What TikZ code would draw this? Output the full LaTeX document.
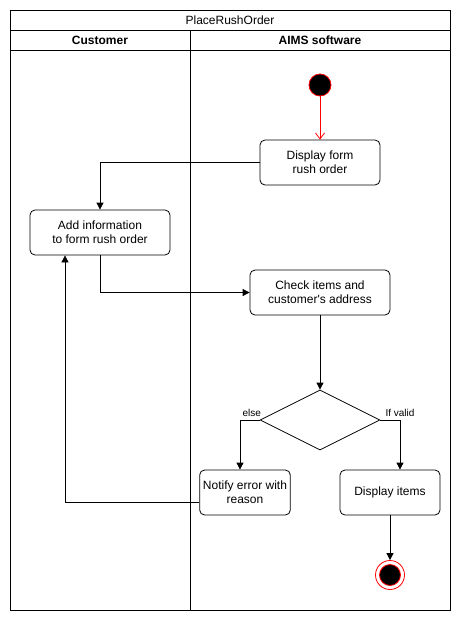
\documentclass[tikz,border=0pt]{standalone}
\usepackage{fontspec}
\setmainfont{Liberation Sans}
\usetikzlibrary{shapes.geometric, arrows.meta, positioning}

\begin{document}
\begin{tikzpicture}[
    x=1pt, y=-1pt,
    font=\fontsize{12}{14}\selectfont,
    >={Triangle[length=7pt,width=7pt]},
    line width=0.8pt,
    % Style des actions
    action/.style={
        rectangle,
        draw,
        fill=white,
        rounded corners=5pt,
        minimum width=120pt,
        minimum height=45pt,
        align=center
    },
    decision/.style={
        diamond,
        draw,
        aspect=2,
        inner sep=0pt,
        minimum width=120pt,
        minimum height=60pt
    },
    startnode/.style={
        circle,
        draw=red,
        fill=black,
        minimum size=22pt,
        inner sep=0pt
    },
    endnode/.style={
        circle,
        draw=red,
        minimum size=29pt,
        inner sep=0pt,
        path picture={\filldraw[draw=red, fill=black] (path picture bounding box.center) circle (10.5pt);}
    },
    guard/.style={font=\fontsize{10}{12}\selectfont, inner sep=3pt}
]

    \useasboundingbox (0,0) rectangle (461,622);

    % --- COULOIRS ---
    \draw (10,10) rectangle (450,610);
    \draw (10,30) -- (450,30);
    \draw (10,50) -- (450,50);
    \draw (190,30) -- (190,610);
    \node (pool) at (230,20) {PlaceRushOrder};
    \node[font=\fontsize{12}{14}\selectfont\bfseries] (customer) at (100,40) {Customer};
    \node[font=\fontsize{12}{14}\selectfont\bfseries] (aims) at (320,40) {AIMS software};

    % --- NŒUDS ---
    \node[startnode] (start) at (320,85) {};
    \node[action] (showform) at (320,162.5) {Display form\\rush order};
    \node[action, minimum width=140pt] (addinfo) at (100,232.5) {Add information\\to form rush order};
    \node[action, minimum width=140pt] (checkitems) at (320,292.5) {Check items and\\customer\textquotesingle s address};
    \node[decision] (valid) at (320,420) {};
    \node[action, minimum width=90pt] (notify) at (245,492.5) {Notify error with\\reason};
    \node[action, minimum width=100pt] (showitems) at (390,492.5) {Display items};
    \node[endnode] (finish) at (390,575) {};

    % --- LIAISONS / FLÈCHES ---
    \draw[-{Straight Barb[length=6pt,width=9pt]}, red] (start) -- (showform);
    \draw[->] (showform.west) -| (addinfo.north);
    \draw[->] (addinfo.south) |- (checkitems.west);
    \draw[->] (checkitems) -- (valid);

    % Branches de la décision
    \draw[->] (valid.west) -| node[guard, pos=0.2, above] {else} ([xshift=-5pt]notify.north);
    \draw[->] (valid.east) -| node[guard, pos=0.5, above] {If valid} ([xshift=10pt]showitems.north);

    % Retour vers le client
    \draw[->] (notify.192) -| ([xshift=-35pt]addinfo.south);

    \draw[->] (showitems) -- (finish);

\end{tikzpicture}
\end{document}
